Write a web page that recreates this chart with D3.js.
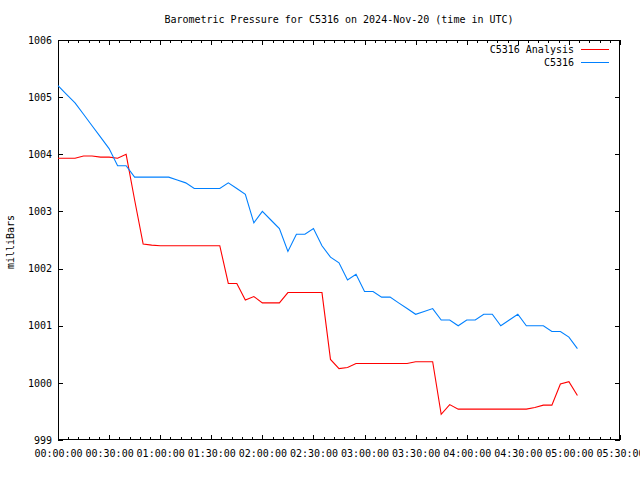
<!DOCTYPE html>
<html>
<head>
<meta charset="utf-8">
<script src="https://cdn.jsdelivr.net/npm/d3@7/dist/d3.min.js"></script>
<style>
  html, body { margin: 0; padding: 0; background: #fff; }
  svg { display: block; }
  text { font-family: "DejaVu Sans Mono", "Liberation Mono", monospace; font-size: 10px; fill: #000; }
</style>
</head>
<body>
<svg id="chart" width="640" height="480"></svg>
<script>
// ---- data ----
const chartTitle = "Barometric Pressure for C5316 on 2024-Nov-20 (time in UTC)";
const yAxisLabel = "milliBars";
const seriesNames = ["C5316 Analysis", "C5316"];
const seriesColors = ["#ff0000", "#0080ff"];

const times = [
  "00:00","00:05","00:10","00:15","00:20","00:25","00:30","00:35","00:40","00:45",
  "00:50","00:55","01:00","01:05","01:10","01:15","01:20","01:25","01:30","01:35",
  "01:40","01:45","01:50","01:55","02:00","02:05","02:10","02:15","02:20","02:25",
  "02:30","02:35","02:40","02:45","02:50","02:55","03:00","03:05","03:10","03:15",
  "03:20","03:25","03:30","03:35","03:40","03:45","03:50","03:55","04:00","04:05",
  "04:10","04:15","04:20","04:25","04:30","04:35","04:40","04:45","04:50","04:55",
  "05:00","05:05"
];

const analysisValues = [
  1003.93,1003.93,1003.93,1003.97,1003.97,1003.95,1003.95,1003.93,1004.00,1003.20,
  1002.43,1002.41,1002.40,1002.40,1002.40,1002.40,1002.40,1002.40,1002.40,1002.40,
  1001.74,1001.74,1001.45,1001.51,1001.40,1001.40,1001.40,1001.58,1001.58,1001.58,
  1001.58,1001.58,1000.41,1000.25,1000.27,1000.34,1000.34,1000.34,1000.34,1000.34,
  1000.34,1000.34,1000.37,1000.37,1000.37,999.45,999.62,999.54,999.54,999.54,
  999.54,999.54,999.54,999.54,999.54,999.54,999.57,999.61,999.61,999.98,
  1000.02,999.78
];

const stationValues = [
  1005.20,1005.05,1004.90,1004.70,1004.50,1004.30,1004.10,1003.80,1003.80,1003.60,
  1003.60,1003.60,1003.60,1003.60,1003.55,1003.50,1003.40,1003.40,1003.40,1003.40,
  1003.50,1003.40,1003.30,1002.80,1003.00,1002.85,1002.70,1002.30,1002.60,1002.60,
  1002.70,1002.40,1002.20,1002.10,1001.80,1001.90,1001.60,1001.60,1001.50,1001.50,
  1001.40,1001.30,1001.20,1001.25,1001.30,1001.10,1001.10,1001.00,1001.10,1001.10,
  1001.20,1001.20,1001.00,1001.10,1001.20,1001.00,1001.00,1001.00,1000.90,1000.90,
  1000.80,1000.60
];

const xTickLabels = ["00:00:00","00:30:00","01:00:00","01:30:00","02:00:00","02:30:00",
  "03:00:00","03:30:00","04:00:00","04:30:00","05:00:00","05:30:00"];
const yTickValues = [999, 1000, 1001, 1002, 1003, 1004, 1005, 1006];

// ---- layout ----
const svg = d3.select("#chart");
const L = 58, R = 620, T = 40, B = 440;
const parseT = d3.utcParse("%H:%M");
const parseTick = d3.utcParse("%H:%M:%S");

const x = d3.scaleUtc()
  .domain([parseTick(xTickLabels[0]), parseTick(xTickLabels[xTickLabels.length - 1])])
  .range([L, R]);
const y = d3.scaleLinear().domain([999, 1006]).range([B, T]);

const xMajor = xTickLabels.map(parseTick);
const xMinor = x.ticks(d3.utcMinute.every(6)).filter(d => d.getUTCMinutes() % 30 !== 0);

// minor ticks bottom/top
const gMinB = svg.append("g").attr("transform", `translate(0,${B})`)
  .call(d3.axisBottom(x).tickValues(xMinor).tickSize(-3).tickFormat(""));
const gMinT = svg.append("g").attr("transform", `translate(0,${T})`)
  .call(d3.axisTop(x).tickValues(xMinor).tickSize(-3).tickFormat(""));
// major ticks bottom with labels
const gB = svg.append("g").attr("transform", `translate(0,${B})`)
  .call(d3.axisBottom(x).tickValues(xMajor).tickSize(-5).tickPadding(10)
    .tickFormat(d3.utcFormat("%H:%M:%S")));
const gT = svg.append("g").attr("transform", `translate(0,${T})`)
  .call(d3.axisTop(x).tickValues(xMajor).tickSize(-5).tickFormat(""));
const gL = svg.append("g").attr("transform", `translate(${L},0)`)
  .call(d3.axisLeft(y).tickValues(yTickValues).tickSize(-5).tickPadding(6).tickFormat(d3.format("d")));
const gR = svg.append("g").attr("transform", `translate(${R},0)`)
  .call(d3.axisRight(y).tickValues(yTickValues).tickSize(-5).tickFormat(""));

[gMinB, gMinT, gB, gT, gL, gR].forEach(g => {
  g.select(".domain").remove();
  g.selectAll("line").attr("stroke", "#000").attr("shape-rendering", "crispEdges");
  g.selectAll("text").attr("font-family", null).attr("font-size", null).attr("fill", "#000");
});

// frame
svg.append("rect").attr("x", L + 0.5).attr("y", T + 0.5)
  .attr("width", R - L - 1).attr("height", B - T - 1)
  .attr("fill", "none").attr("stroke", "#000").attr("stroke-width", 1)
  .attr("shape-rendering", "crispEdges");

// title
svg.append("text").attr("x", (L + R) / 2).attr("y", 23)
  .attr("text-anchor", "middle").text(chartTitle);

// y label
svg.append("text").attr("transform", `translate(14,242) rotate(-90)`)
  .attr("text-anchor", "middle").text(yAxisLabel);

// lines
const line = d3.line()
  .x((d, i) => x(parseT(times[i])))
  .y(d => y(d));

const allSeries = [analysisValues, stationValues];
allSeries.forEach((vals, k) => {
  svg.append("path").datum(vals)
    .attr("d", line)
    .attr("fill", "none")
    .attr("stroke", seriesColors[k])
    .attr("stroke-width", 1.1);
});

// legend
seriesNames.forEach((name, k) => {
  const ly = 49.5 + k * 13;
  svg.append("text").attr("x", 574).attr("y", ly).attr("dy", "0.35em")
    .attr("text-anchor", "end").text(name);
  svg.append("line").attr("x1", 581).attr("x2", 609).attr("y1", ly).attr("y2", ly)
    .attr("stroke", seriesColors[k]).attr("stroke-width", 1)
    .attr("shape-rendering", "crispEdges");
});
</script>
</body>
</html>
